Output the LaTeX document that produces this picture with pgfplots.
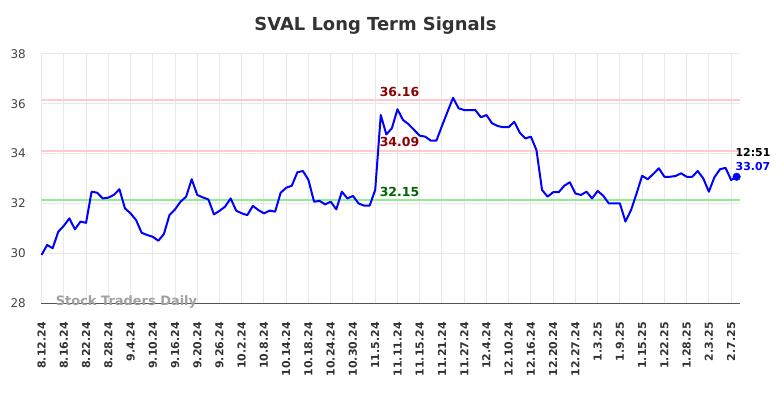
\documentclass[border=0pt]{standalone}
\usepackage{pgfplots}
\pgfplotsset{compat=1.18}
\usepackage{pgfplotstable}
\usepackage{fontspec}
\setmainfont{DejaVu Sans}
\definecolor{gridc}{HTML}{E8E8E8}
\definecolor{axisc}{HTML}{555555}
\definecolor{tickc}{HTML}{333333}
\definecolor{ytickc}{HTML}{444444}
\definecolor{titlec}{HTML}{333333}
\definecolor{wmc}{HTML}{A0A0A0}
\definecolor{redline}{HTML}{FFCCCC}
\definecolor{greenline}{HTML}{90EE90}
\definecolor{darkred}{HTML}{8B0000}
\definecolor{darkgreen}{HTML}{006400}
\definecolor{lineblue}{HTML}{0000FF}

\pgfplotstableread{
i v
0 29.93
1 30.33
2 30.20
3 30.86
4 31.10
5 31.40
6 30.96
7 31.27
8 31.22
9 32.47
10 32.43
11 32.20
12 32.23
13 32.34
14 32.57
15 31.80
16 31.60
17 31.33
18 30.82
19 30.73
20 30.66
21 30.50
22 30.77
23 31.53
24 31.76
25 32.07
26 32.27
27 32.97
28 32.34
29 32.24
30 32.16
31 31.56
32 31.70
33 31.87
34 32.20
35 31.71
36 31.60
37 31.53
38 31.90
39 31.73
40 31.60
41 31.71
42 31.67
43 32.43
44 32.63
45 32.71
46 33.25
47 33.30
48 32.94
49 32.07
50 32.10
51 31.96
52 32.07
53 31.76
54 32.47
55 32.20
56 32.30
57 32.00
58 31.91
59 31.91
60 32.54
61 35.55
62 34.77
63 35.02
64 35.78
65 35.35
66 35.18
67 34.95
68 34.72
69 34.68
70 34.52
71 34.52
72 35.11
73 35.68
74 36.24
75 35.82
76 35.75
77 35.75
78 35.75
79 35.46
80 35.55
81 35.22
82 35.11
83 35.06
84 35.06
85 35.28
86 34.84
87 34.61
88 34.68
89 34.14
90 32.54
91 32.27
92 32.45
93 32.45
94 32.71
95 32.85
96 32.40
97 32.34
98 32.47
99 32.20
100 32.50
101 32.31
102 32.00
103 32.00
104 32.00
105 31.27
106 31.73
107 32.40
108 33.11
109 32.97
110 33.18
111 33.41
112 33.07
113 33.07
114 33.10
115 33.21
116 33.07
117 33.07
118 33.30
119 33.00
120 32.47
121 33.05
122 33.37
123 33.43
124 32.94
125 33.07
}\datatable

\begin{document}
\begin{tikzpicture}
\useasboundingbox (-41bp,-95bp) rectangle (743bp,303bp);
\begin{axis}[
  scale only axis, width=699bp, height=249bp,
  xmin=-0.1, xmax=125.6, ymin=28, ymax=38,
  xtick={0,4,...,124},
  xticklabels={8.12.24,8.16.24,8.22.24,8.28.24,9.4.24,9.10.24,9.16.24,9.20.24,9.26.24,10.2.24,10.8.24,10.14.24,10.18.24,10.24.24,10.30.24,11.5.24,11.11.24,11.15.24,11.21.24,11.27.24,12.4.24,12.10.24,12.16.24,12.20.24,12.27.24,1.3.25,1.9.25,1.15.25,1.22.25,1.28.25,2.3.25,2.7.25},
  ytick={28,30,...,38},
  grid=major,
  major grid style={draw=gridc, line width=1bp},
  axis x line*=bottom, axis y line*=left,
  x axis line style={draw=axisc, line width=1bp, -},
  y axis line style={draw=none},
  major tick length=0pt,
  xticklabel style={rotate=90, anchor=east, inner sep=0pt, font=\fontsize{11}{11}\selectfont\bfseries, text=tickc},
  xticklabel shift=19bp,
  yticklabel style={anchor=east, inner sep=0pt, xshift=-15bp, font=\fontsize{12}{12}\selectfont, text=ytickc},
  /pgf/number format/assume math mode=true,
  clip=false,
]
\addplot[redline, line width=2bp, forget plot] coordinates {(-0.1,36.16) (125.6,36.16)};
\addplot[redline, line width=2bp, forget plot] coordinates {(-0.1,34.09) (125.6,34.09)};
\addplot[greenline, line width=2bp, forget plot] coordinates {(-0.1,32.15) (125.6,32.15)};
\addplot[lineblue, line width=2bp, line join=round, mark=none] table[x=i, y=v] {\datatable};
\addplot[lineblue, only marks, mark=*, mark size=3.8bp] coordinates {(125,33.07)};
\end{axis}
\node[font=\fontsize{18}{18}\selectfont\bfseries, text=titlec] at (334.5bp, 277bp) {SVAL Long Term Signals};
\node[font=\fontsize{13}{13}\selectfont\bfseries, text=wmc] at (85.5bp, 1bp) {Stock Traders Daily};
\node[font=\fontsize{12.5}{12.5}\selectfont\bfseries, text=darkred] at (358.5bp, 211.5bp) {36.16};
\node[font=\fontsize{12.5}{12.5}\selectfont\bfseries, text=darkred] at (358.5bp, 160.7bp) {34.09};
\node[font=\fontsize{12.5}{12.5}\selectfont\bfseries, text=darkgreen] at (358.5bp, 111.3bp) {32.15};
\node[font=\fontsize{11}{11}\selectfont\bfseries, text=black] at (712bp, 150.2bp) {12:51};
\node[font=\fontsize{11}{11}\selectfont\bfseries, text=lineblue] at (712bp, 136.8bp) {33.07};
\end{tikzpicture}
\end{document}
